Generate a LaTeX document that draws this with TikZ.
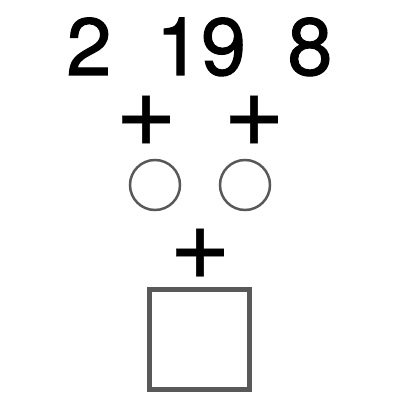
\documentclass[tikz,border=0pt]{standalone}
\usepackage{fontspec}
\setmainfont{TeX Gyre Heros}
\newfontfamily\numfont[FakeBold=1.3]{TeX Gyre Heros}
\newfontfamily\plusfont[FakeBold=0.3]{TeX Gyre Heros}
\begin{document}
\begin{tikzpicture}[x=1pt,y=1pt,
  num/.style={anchor=base,inner sep=0pt,font=\numfont\fontsize{81}{81}\selectfont},
  plussign/.style={anchor=base,inner sep=0pt,font=\plusfont\fontsize{106}{106}\selectfont},
  ring/.style={draw=black!65,line width=2.5pt,circle,minimum size=50pt,inner sep=0pt},
  box/.style={draw=black!65,line width=5pt,minimum size=100pt,inner sep=0pt}]
\useasboundingbox (0,0) rectangle (400,400);
\node[num] (n2) at (89,325) {2};
\node[num] (n19) at (201,325) {19};
\node[num] (n8) at (310,325) {8};
\node[plussign] (p1) at (146,254) {+};
\node[plussign] (p2) at (254,254) {+};
\node[ring] (c1) at (155,215) {};
\node[ring] (c2) at (245,215) {};
\node[plussign] (p3) at (200,121) {+};
\node[box] (sq) at (199.5,60.5) {};
\end{tikzpicture}
\end{document}
